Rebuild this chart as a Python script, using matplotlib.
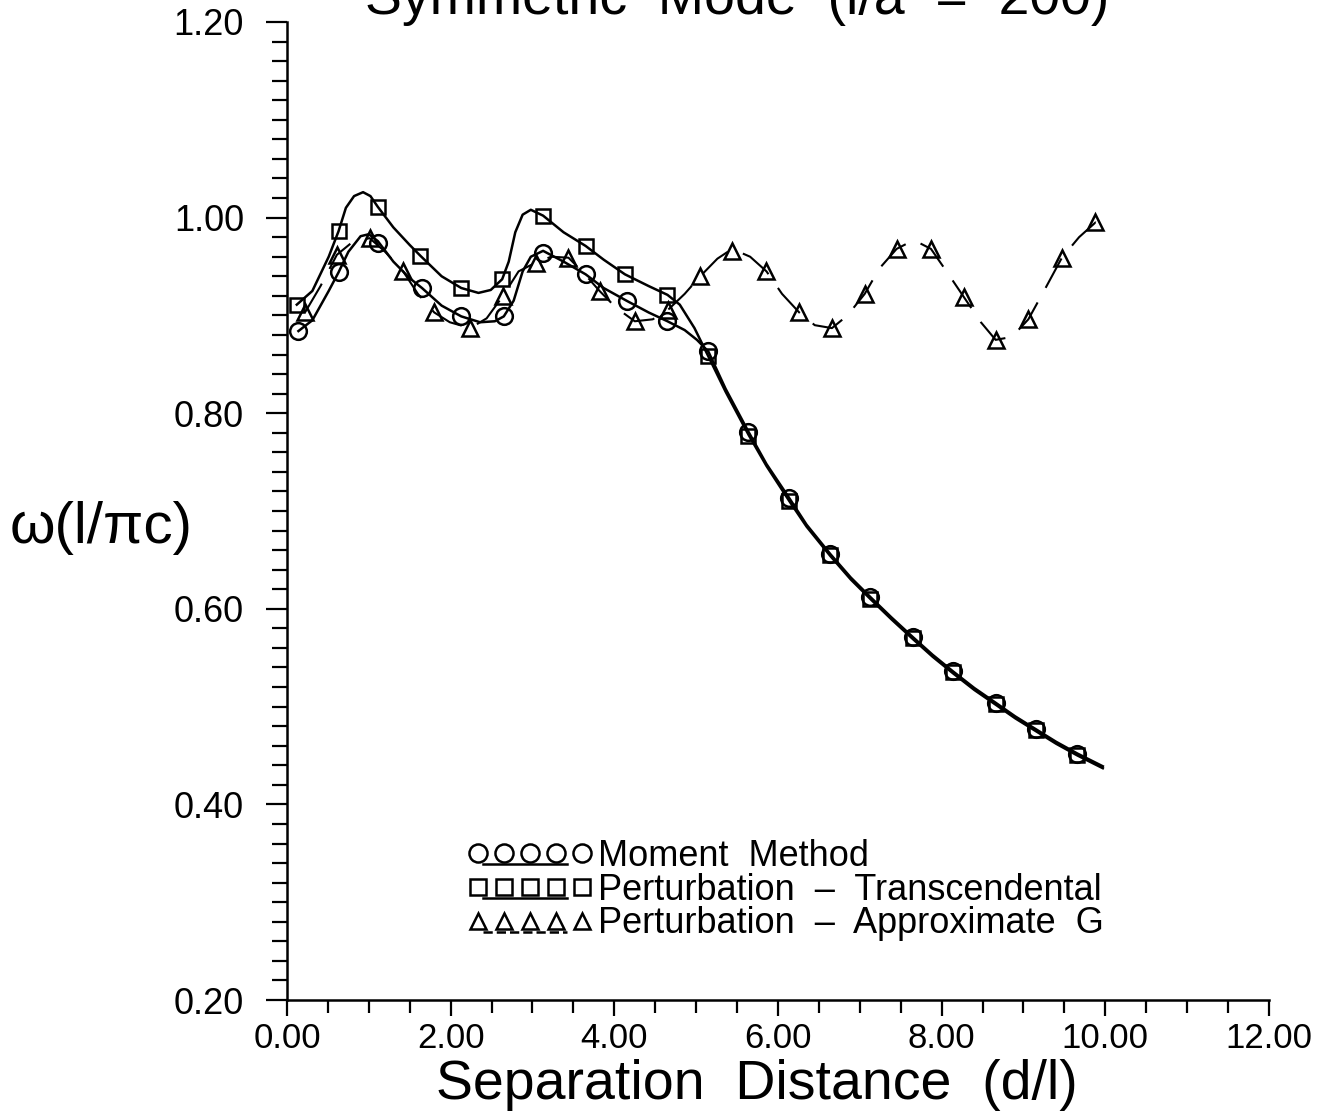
import numpy as np
import matplotlib
matplotlib.use("Agg")
import matplotlib.pyplot as plt
from matplotlib.ticker import MultipleLocator, FormatStrFormatter
from matplotlib.legend_handler import HandlerLine2DCompound

plt.rcParams["font.family"] = ["Liberation Sans", "DejaVu Sans"]

# Moment method: markers and the smooth curve through them
mm_x = [0.14, 0.63, 1.11, 1.65, 2.13, 2.65, 3.13, 3.65, 4.15, 4.65,
        5.15, 5.64, 6.14, 6.64, 7.13, 7.65, 8.14, 8.66, 9.15, 9.66]
mm_y = [0.884, 0.944, 0.974, 0.928, 0.899, 0.899, 0.964, 0.942, 0.915, 0.894,
        0.864, 0.781, 0.713, 0.656, 0.612, 0.571, 0.536, 0.504, 0.477, 0.452]
mm_curve_x = [0.14, 0.31, 0.51, 0.63, 0.75, 0.90, 1.00, 1.11, 1.30, 1.50, 1.65,
              1.89, 2.13, 2.36, 2.54, 2.65, 2.77, 2.88, 2.98, 3.13, 3.38, 3.65,
              3.87, 4.15, 4.42, 4.65, 4.86, 5.01, 5.15, 5.36, 5.64, 5.86, 6.14,
              6.35, 6.64, 6.89, 7.13, 7.39, 7.65, 7.89, 8.14, 8.40, 8.66, 8.90,
              9.15, 9.40, 9.66, 9.97]
mm_curve_y = [0.884, 0.895, 0.925, 0.944, 0.965, 0.981, 0.983, 0.976, 0.955,
              0.938, 0.928, 0.910, 0.899, 0.893, 0.894, 0.899, 0.915, 0.945,
              0.960, 0.966, 0.955, 0.942, 0.928, 0.915, 0.903, 0.894, 0.885,
              0.875, 0.863, 0.825, 0.781, 0.748, 0.713, 0.686, 0.656, 0.632,
              0.612, 0.591, 0.571, 0.553, 0.536, 0.519, 0.504, 0.490, 0.477,
              0.464, 0.452, 0.439]

# Perturbation - transcendental
pt_x = [0.12, 0.63, 1.11, 1.63, 2.13, 2.63, 3.13, 3.65, 4.13, 4.65,
        5.15, 5.64, 6.14, 6.64, 7.13, 7.65, 8.14, 8.66, 9.15, 9.66]
pt_y = [0.911, 0.986, 1.011, 0.961, 0.928, 0.937, 1.002, 0.971, 0.942, 0.921,
        0.858, 0.777, 0.710, 0.655, 0.610, 0.570, 0.535, 0.503, 0.476, 0.451]
pt_curve_x = [0.12, 0.31, 0.51, 0.63, 0.72, 0.82, 0.93, 1.02, 1.11, 1.30, 1.50,
              1.63, 1.89, 2.13, 2.34, 2.49, 2.63, 2.71, 2.79, 2.88, 2.98, 3.13,
              3.38, 3.65, 3.87, 4.13, 4.42, 4.65, 4.80, 4.98, 5.15, 5.36, 5.64,
              5.86, 6.14, 6.35, 6.64, 6.89, 7.13, 7.39, 7.65, 7.89, 8.14, 8.40,
              8.66, 8.90, 9.15, 9.40, 9.66, 9.97]
pt_curve_y = [0.911, 0.925, 0.960, 0.986, 1.010, 1.022, 1.026, 1.022, 1.011,
              0.990, 0.972, 0.961, 0.940, 0.928, 0.923, 0.926, 0.937, 0.955,
              0.985, 1.003, 1.008, 1.002, 0.985, 0.971, 0.957, 0.942, 0.930,
              0.921, 0.911, 0.887, 0.858, 0.822, 0.778, 0.746, 0.710, 0.684,
              0.654, 0.630, 0.610, 0.589, 0.569, 0.551, 0.534, 0.517, 0.502,
              0.488, 0.475, 0.462, 0.450, 0.437]

# Perturbation - approximate G
pa_x = [0.22, 0.61, 1.01, 1.42, 1.80, 2.24, 2.64, 3.04, 3.44, 3.82, 4.25,
        4.66, 5.05, 5.44, 5.86, 6.26, 6.66, 7.06, 7.45, 7.87, 8.27, 8.66,
        9.06, 9.47, 9.88]
pa_y = [0.903, 0.962, 0.979, 0.945, 0.903, 0.887, 0.920, 0.954, 0.959, 0.925,
        0.894, 0.906, 0.940, 0.966, 0.945, 0.903, 0.887, 0.922, 0.968, 0.968,
        0.919, 0.875, 0.896, 0.959, 0.995]
pa_curve_x = [0.22, 0.41, 0.61, 0.80, 1.01, 1.20, 1.42, 1.60, 1.80, 1.99, 2.24,
              2.44, 2.64, 2.83, 3.04, 3.23, 3.44, 3.63, 3.82, 4.02, 4.25, 4.47,
              4.66, 4.86, 5.05, 5.26, 5.44, 5.66, 5.86, 6.05, 6.26, 6.45, 6.66,
              6.85, 7.06, 7.24, 7.45, 7.66, 7.87, 8.06, 8.27, 8.48, 8.66, 8.86,
              9.06, 9.27, 9.47, 9.68, 9.88, 10.03]
pa_curve_y = [0.903, 0.930, 0.962, 0.975, 0.979, 0.965, 0.945, 0.922, 0.903,
              0.893, 0.887, 0.897, 0.920, 0.945, 0.954, 0.960, 0.959, 0.943,
              0.925, 0.908, 0.894, 0.896, 0.906, 0.922, 0.940, 0.958, 0.968,
              0.960, 0.945, 0.922, 0.903, 0.890, 0.887, 0.900, 0.922, 0.948,
              0.968, 0.977, 0.968, 0.945, 0.919, 0.893, 0.875, 0.878, 0.896,
              0.928, 0.959, 0.980, 0.995, 0.987]

legend_labels = ["Moment  Method", "Perturbation  \u2013  Transcendental",
                 "Perturbation  \u2013  Approximate  G"]


class UnderlineHandler(HandlerLine2DCompound):
    # draw the key's line under the row of markers, like the old plotter key
    def create_artists(self, legend, orig_handle, xdescent, ydescent,
                       width, height, fontsize, trans):
        line, marks = super().create_artists(legend, orig_handle, xdescent, ydescent,
                                             width, height, fontsize, trans)
        xd = np.asarray(line.get_xdata(), dtype=float)
        yd = np.asarray(line.get_ydata(), dtype=float)
        x0, x1 = xd.min() + 0.04 * width, xd.max() - 0.12 * width
        y0 = yd.mean() - 0.45 * height
        line.set_data([x0, x1], [y0, y0])
        return [line, marks]


fig = plt.figure(figsize=(13.36, 11.11), dpi=100)
ax = fig.add_axes([0.2148, 0.0999, 0.7350, 0.8803])

ax.plot(mm_curve_x, mm_curve_y, color="black", lw=1.8)
ax.plot(pt_curve_x, pt_curve_y, color="black", lw=1.8)
ax.plot(pa_curve_x, pa_curve_y, color="black", lw=1.5, dashes=(16, 8))
ax.plot(mm_x, mm_y, ls="none", marker="o", ms=12, mfc="none", mec="black", mew=1.8)
ax.plot(pt_x, pt_y, ls="none", marker="s", ms=10.5, mfc="none", mec="black", mew=1.8)
ax.plot(pa_x, pa_y, ls="none", marker="^", ms=12, mfc="none", mec="black", mew=1.8)

h_mm, = ax.plot([], [], color="black", lw=1.8, marker="o", ms=13, mfc="none", mew=1.8)
h_pt, = ax.plot([], [], color="black", lw=1.8, marker="s", ms=12, mfc="none", mew=1.8)
h_pa, = ax.plot([], [], color="black", lw=1.8, ls="--", marker="^", ms=11, mfc="none", mew=1.8)
ax.legend([h_mm, h_pt, h_pa], legend_labels,
          handler_map={h_mm: UnderlineHandler(), h_pt: UnderlineHandler(),
                       h_pa: UnderlineHandler()},
          numpoints=5, frameon=False, fontsize=26, handlelength=3.5,
          handletextpad=0.15, labelspacing=-0.03, borderpad=0, borderaxespad=0,
          loc="upper left", bbox_to_anchor=(0.183, 0.165))

ax.set_xlim(0, 12)
ax.set_ylim(0.2, 1.2)
ax.xaxis.set_major_locator(MultipleLocator(2))
ax.xaxis.set_minor_locator(MultipleLocator(0.5))
ax.yaxis.set_major_locator(MultipleLocator(0.2))
ax.yaxis.set_minor_locator(MultipleLocator(0.02))
ax.xaxis.set_major_formatter(FormatStrFormatter("%.2f"))
ax.yaxis.set_major_formatter(FormatStrFormatter("%.2f"))
ax.tick_params(axis="x", which="major", direction="out", length=11.5, width=1.6,
               labelsize=25, pad=4)
ax.tick_params(axis="x", which="minor", direction="out", length=9, width=1.6)
ax.tick_params(axis="y", which="major", direction="out", length=15, width=1.6,
               labelsize=26, pad=16)
ax.tick_params(axis="y", which="minor", direction="out", length=11, width=1.6)

for side in ["top", "right"]:
    ax.spines[side].set_visible(False)
for side in ["left", "bottom"]:
    ax.spines[side].set_linewidth(1.8)

fig.text(757 / 1336, 1 - 1099 / 1111, "Separation  Distance  (d/l)", fontsize=40,
         ha="center", va="baseline")
fig.text(101 / 1336, 1 - 528 / 1111, "\u03c9(l/\u03c0c)", fontsize=42,
         ha="center", va="center")
fig.text(0.552, 1 - 14 / 1111, "Symmetric  Mode  (l/a  =  200)", fontsize=40,
         ha="center", va="baseline")

fig.savefig("out.png", dpi=100)
